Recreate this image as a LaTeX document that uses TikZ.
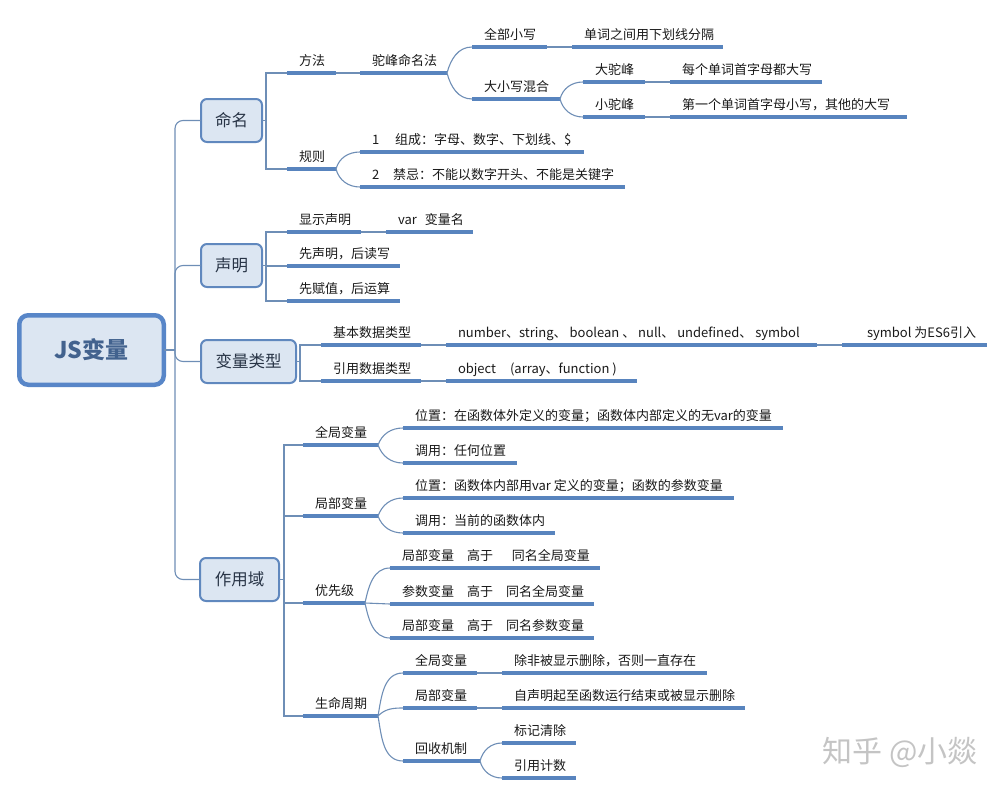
\documentclass[tikz,border=0pt]{standalone}
\usepackage{fontspec}
\setmainfont{Noto Sans CJK SC}
\definecolor{ulcol}{RGB}{88,132,190}
\definecolor{conncol}{RGB}{110,142,182}
\definecolor{boxfill}{RGB}{220,230,242}
\definecolor{boxdraw}{RGB}{96,136,190}
\definecolor{rootdraw}{RGB}{88,134,200}
\definecolor{roottext}{RGB}{66,98,142}
\definecolor{boxtext}{RGB}{40,52,70}
\definecolor{leaftext}{RGB}{25,25,25}
\definecolor{wmcol}{RGB}{196,196,196}
\tikzset{
  leafbox/.style={anchor=south west, inner xsep=12pt, inner ysep=5pt, outer sep=0pt,
    text height=10pt, text depth=3pt, font=\fontsize{13}{15}\selectfont, text=leaftext},
  ul/.style={draw=ulcol, line width=3.2pt, line cap=butt},
  conn/.style={draw=conncol, line width=1.1pt},
  topic/.style={draw=boxdraw, fill=boxfill, line width=2pt, rounded corners=6pt,
    font=\fontsize{16.5}{19}\selectfont, text=boxtext, inner sep=0pt, outer sep=0pt,
    minimum height=43pt},
  rootbox/.style={draw=rootdraw, fill=boxfill, line width=4.5pt, rounded corners=9pt,
    font=\fontsize{23}{26}\selectfont\bfseries, text=roottext, inner sep=0pt, outer sep=0pt,
    minimum width=144.5pt, minimum height=69.5pt}
}
\newcommand\leafN[6][]{%
  \pgfmathsetmacro\lfw{#4-#3-24}%
  \node[leafbox,#1] (#2) at (#3,-#5) {\makebox[\lfw pt][l]{#6}};%
  \draw[ul] (#2.south west) -- (#2.south east);}
\begin{document}
\begin{tikzpicture}[x=1pt,y=1pt]
\useasboundingbox (0,0) rectangle (1005,-795);
% root and topics
\node[rootbox] (root) at (91.5,-350) {JS变量};
\node[topic, minimum width=61pt] (mm) at (231.5,-120.5) {命名};
\node[topic, minimum width=61pt] (sb) at (231.5,-265.5) {声明};
\node[topic, minimum width=95pt] (lx) at (248.5,-361.5) {变量类型};
\node[topic, minimum width=79pt] (zy) at (239.5,-579.5) {作用域};
\coordinate (hub) at (175,-350);
\draw[conn] (root.east) -- (hub);
\foreach \t in {mm,sb,lx,zy}{\draw[conn,rounded corners=8pt] (hub) |- (\t.west);}
% naming
\leafN{fa}{287}{336}{73}{方法}
\leafN{tf}{360}{447}{73}{驼峰命名法}
\leafN{qb}{472}{547}{47}{全部小写}
\leafN{dc}{572}{723}{47}{单词之间用下划线分隔}
\leafN{dx}{472}{560}{99}{大小写混合}
\leafN{dt}{583}{645}{82}{大驼峰}
\leafN{mg}{670}{822}{82}{每个单词首字母都大写}
\leafN{xt}{583}{645}{117}{小驼峰}
\leafN{dy}{670}{907}{117}{第一个单词首字母小写，其他的大写}
\leafN{gz}{287}{336}{169}{规则}
\leafN{ra}{360}{584}{152}{1\hspace{16pt}组成：字母、数字、下划线、\$}
\leafN{rb}{360}{625}{187}{2\hspace{14pt}禁忌：不能以数字开头、不能是关键字}
\draw[conn] (mm.east) -- ++(4,0) |- (fa.south west);
\draw[conn] (mm.east) -- ++(4,0) |- (gz.south west);
\draw[conn] (fa.south east) -- (tf.south west);
\draw[conn] (tf.south east) to[out=75,in=180] (qb.south west);
\draw[conn] (tf.south east) to[out=-75,in=180] (dx.south west);
\draw[conn] (qb.south east) -- (dc.south west);
\draw[conn] (dx.south east) to[out=75,in=180] (dt.south west);
\draw[conn] (dx.south east) to[out=-75,in=180] (xt.south west);
\draw[conn] (dt.south east) -- (mg.south west);
\draw[conn] (xt.south east) -- (dy.south west);
\draw[conn] (gz.south east) to[out=75,in=180] (ra.south west);
\draw[conn] (gz.south east) to[out=-75,in=180] (rb.south west);
% declaration
\leafN{xs}{287}{361}{232}{显示声明}
\leafN{vr}{386}{473}{232}{var\hspace{8pt}变量名}
\leafN{sa}{287}{400}{266}{先声明，后读写}
\leafN{sc}{287}{400}{301}{先赋值，后运算}
\draw[conn] (sb.east) -- ++(4,0) |- (xs.south west);
\draw[conn] (sb.east) -- ++(4,0) |- (sa.south west);
\draw[conn] (sb.east) -- ++(4,0) |- (sc.south west);
\draw[conn] (xs.south east) -- (vr.south west);
% types
\leafN{jb}{321}{421}{345}{基本数据类型}
\leafN{nb}{446}{817}{345}{number、string、 boolean 、 null、 undefined、 symbol}
\leafN{sy}{842}{987}{345}{\hspace*{13pt}symbol 为ES6引入}
\leafN{yy}{321}{421}{381}{引用数据类型}
\leafN{ob}{446}{637}{381}{object\hspace{14pt}(array、function )}
\draw[conn] (lx.east) -- ++(4,0) |- (jb.south west);
\draw[conn] (lx.east) -- ++(4,0) |- (yy.south west);
\draw[conn] (jb.south east) -- (nb.south west);
\draw[conn] (nb.south east) -- (sy.south west);
\draw[conn] (yy.south east) -- (ob.south west);
% scope
\leafN{qj}{303}{378}{445}{全局变量}
\leafN{qw}{403}{783}{428}{位置：在函数体外定义的变量；函数体内部定义的无var的变量}
\leafN{qd}{403}{517}{463}{调用：任何位置}
\leafN{jj}{303}{378}{516}{局部变量}
\leafN{jw}{403}{734}{498}{位置：函数体内部用var 定义的变量；函数的参数变量}
\leafN{jd}{403}{555}{533}{调用：当前的函数体内}
\leafN{yx}{303}{365}{603}{优先级}
\leafN{pa}{390}{600}{568}{局部变量\hspace{13pt}高于\hspace{19pt}同名全局变量}
\leafN{pb}{390}{594}{604}{参数变量\hspace{13pt}高于\hspace{13pt}同名全局变量}
\leafN{pc}{390}{594}{638}{局部变量\hspace{13pt}高于\hspace{13pt}同名参数变量}
\leafN{sm}{303}{378}{716}{生命周期}
\leafN{lq}{403}{477}{673}{全局变量}
\leafN{lqt}{502}{707}{673}{除非被显示删除，否则一直存在}
\leafN{lj}{403}{477}{708}{局部变量}
\leafN{ljt}{502}{745}{708}{自声明起至函数运行结束或被显示删除}
\leafN{hs}{403}{480}{761}{回收机制}
\leafN{bj}{502}{576}{743}{标记清除}
\leafN{yc}{502}{576}{778}{引用计数}
\foreach \t in {qj,jj,yx,sm}{\draw[conn] (zy.east) -- ++(5,0) |- (\t.south west);}
\draw[conn] (qj.south east) to[out=70,in=180] (qw.south west);
\draw[conn] (qj.south east) to[out=-70,in=180] (qd.south west);
\draw[conn] (jj.south east) to[out=70,in=180] (jw.south west);
\draw[conn] (jj.south east) to[out=-70,in=180] (jd.south west);
\draw[conn] (yx.south east) to[out=78,in=180] (pa.south west);
\draw[conn] (yx.south east) -- (pb.south west);
\draw[conn] (yx.south east) to[out=-78,in=180] (pc.south west);
\draw[conn] (sm.south east) to[out=80,in=180] (lq.south west);
\draw[conn] (sm.south east) to[out=45,in=180] (lj.south west);
\draw[conn] (sm.south east) to[out=-80,in=180] (hs.south west);
\draw[conn] (lq.south east) -- (lqt.south west);
\draw[conn] (lj.south east) -- (ljt.south west);
\draw[conn] (hs.south east) to[out=75,in=180] (bj.south west);
\draw[conn] (hs.south east) to[out=-75,in=180] (yc.south west);
% watermark
\node[font=\fontsize{30}{32}\selectfont, text=wmcol] (wm) at (900,-752) {知乎 @小燚};
\end{tikzpicture}
\end{document}
